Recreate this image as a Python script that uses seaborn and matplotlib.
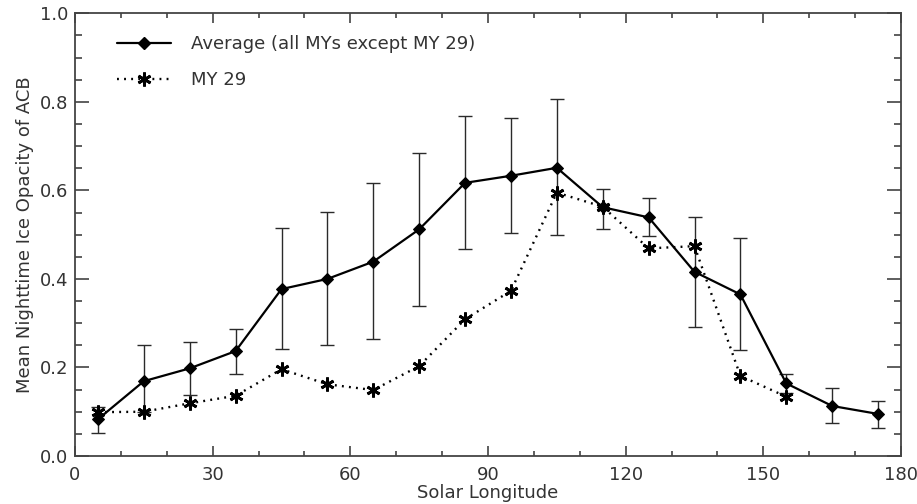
import numpy as np
import pandas as pd
import matplotlib
matplotlib.use("Agg")
import matplotlib.pyplot as plt
from matplotlib.ticker import MultipleLocator
from matplotlib.lines import Line2D
import seaborn as sns

# ---- data ----
ls_avg = [5, 15, 25, 35, 45, 55, 65, 75, 85, 95, 105, 115, 125, 135, 145, 155, 165, 175]
avg = [0.083, 0.169, 0.198, 0.237, 0.377, 0.400, 0.439, 0.512, 0.617, 0.633, 0.651,
       0.562, 0.539, 0.416, 0.365, 0.164, 0.113, 0.095]
err_hi = [0.110, 0.251, 0.258, 0.287, 0.514, 0.552, 0.616, 0.685, 0.769, 0.763, 0.806,
          0.603, 0.582, 0.539, 0.492, 0.185, 0.154, 0.124]
err_lo = [0.053, 0.100, 0.138, 0.185, 0.242, 0.251, 0.264, 0.339, 0.468, 0.503, 0.499,
          0.512, 0.498, 0.292, 0.239, 0.143, 0.074, 0.064]

ls_my29 = [5, 15, 25, 35, 45, 55, 65, 75, 85, 95, 105, 115, 125, 135, 145, 155]
my29 = [0.099, 0.100, 0.119, 0.136, 0.196, 0.162, 0.149, 0.203, 0.309, 0.373, 0.595,
        0.563, 0.469, 0.474, 0.181, 0.134]

label_avg = "Average (all MYs except MY 29)"
label_my29 = "MY 29"

df_avg = pd.DataFrame({"Ls": ls_avg, "val": avg})
df_my = pd.DataFrame({"Ls": ls_my29, "val": my29})

sns.set_style("ticks")
plt.rcParams["font.family"] = ["DejaVu Sans"]
txt = "#333333"
fs = 13

fig = plt.figure(figsize=(9.17, 5.04), dpi=100)
ax = fig.add_axes([75/917, 1-456/504, (901-75)/917, (456-13.3)/504])

# error bars
yerr = np.array([np.array(avg) - np.array(err_lo), np.array(err_hi) - np.array(avg)])
ax.errorbar(ls_avg, avg, yerr=yerr, fmt="none", ecolor="#2a2a2a", elinewidth=1.0,
            capsize=5, capthick=1.0, zorder=2)

asterisk = (6, 2, 0)
dots = (0, (0.8, 2.2))
sns.lineplot(data=df_my, x="Ls", y="val", ax=ax, color="black", linestyle=dots,
             linewidth=1.7, marker=asterisk, markersize=10, markeredgewidth=2.0,
             markeredgecolor="black", zorder=3)
sns.lineplot(data=df_avg, x="Ls", y="val", ax=ax, color="black", linewidth=1.6,
             marker="D", markersize=6, markeredgecolor="black", markerfacecolor="black",
             zorder=4)

ax.set_xlim(0, 180)
ax.set_ylim(0, 1.0)
ax.xaxis.set_major_locator(MultipleLocator(30))
ax.xaxis.set_minor_locator(MultipleLocator(10))
ax.yaxis.set_major_locator(MultipleLocator(0.2))
ax.yaxis.set_minor_locator(MultipleLocator(0.05))
ax.set_xticks([0, 30, 60, 90, 120, 150, 180])
ax.set_xticklabels(["0", "30", "60", "90", "120", "150", "180"])
ax.set_yticks([0, 0.2, 0.4, 0.6, 0.8, 1.0])
ax.set_yticklabels(["0.0", "0.2", "0.4", "0.6", "0.8", "1.0"])

ax.tick_params(axis="both", which="both", direction="in", top=True, right=True,
               colors=txt, labelsize=fs, width=1.1)
ax.tick_params(axis="x", which="major", length=7, pad=7)
ax.tick_params(axis="x", which="minor", length=3.5)
ax.tick_params(axis="y", which="major", length=10, pad=5)
ax.tick_params(axis="y", which="minor", length=5)
for s in ax.spines.values():
    s.set_color("#444444")
    s.set_linewidth(1.3)

ax.set_xlabel("Solar Longitude", fontsize=fs, color=txt, labelpad=0)
ax.set_ylabel("Mean Nighttime Ice Opacity of ACB", fontsize=fs, color=txt, labelpad=4)

h1 = Line2D([], [], color="black", linewidth=1.6, marker="D", markersize=6)
h2 = Line2D([], [], color="black", linewidth=1.7, linestyle=dots,
            marker=asterisk, markersize=10, markeredgewidth=2.0)
leg = ax.legend([h1, h2], [label_avg, label_my29], loc="upper left",
                bbox_to_anchor=(0.031, 0.988), frameon=False, fontsize=fs,
                handlelength=3.0, labelspacing=1.0, handletextpad=1.1, labelcolor=txt)

fig.savefig("out.png", dpi=100)
